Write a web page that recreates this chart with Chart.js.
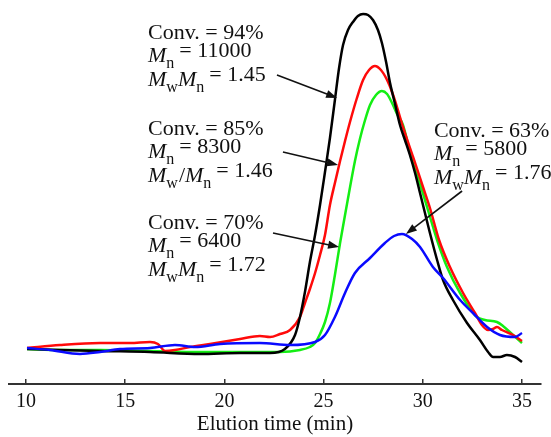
<!DOCTYPE html>
<html>
<head>
<meta charset="utf-8">
<script src="https://cdn.jsdelivr.net/npm/chart.js@4"></script>
<style>
  html, body { margin: 0; padding: 0; background: #fff; }
  canvas { display: block; }
</style>
</head>
<body>
<canvas id="gpcChart" width="551" height="437"></canvas>
<script>
// GPC traces, detector signal (arb. units) against elution time (min)
const blackTime = [10.05, 11.71, 13.73, 16.25, 18.77, 20.79, 22.30, 23.05, 23.56, 23.81, 24.06, 24.31, 24.57, 24.82, 25.07, 25.32, 25.57, 25.78, 25.98, 26.23, 26.48, 26.73, 26.99, 27.24, 27.49, 27.74, 27.94, 28.15, 28.35, 28.60, 28.85, 29.10, 29.35, 29.61, 29.86, 30.11, 30.36, 30.72, 31.02, 31.52, 32.23, 32.88, 33.29, 33.54, 33.89, 34.24, 34.65, 35.00];
const blackSignal = [35, 34, 33, 32, 30, 31, 31, 35, 49, 67, 92, 122, 149, 179, 212, 246, 284, 316, 339, 354, 362, 368, 370, 369, 364, 354, 341, 322, 301, 280, 259, 244, 229, 211, 191, 171, 151, 124, 104, 84, 61, 44, 32, 27, 27, 29, 27, 22];

const redTime = [10.05, 11.71, 13.73, 15.24, 16.25, 16.65, 17.01, 17.51, 18.27, 19.27, 20.79, 21.79, 22.30, 22.80, 23.31, 23.81, 24.06, 24.31, 24.57, 24.82, 25.07, 25.32, 25.57, 25.83, 26.08, 26.33, 26.68, 26.99, 27.29, 27.59, 27.89, 28.20, 28.45, 28.70, 29.00, 29.51, 30.01, 30.36, 30.82, 31.37, 32.03, 32.63, 32.98, 33.29, 33.54, 33.74, 33.99, 34.55, 35.00];
const redSignal = [36, 39, 41, 41, 42, 40, 33, 34, 37, 40, 45, 48, 47, 50, 54, 67, 81, 95, 111, 129, 149, 179, 201, 223, 243, 262, 286, 304, 314, 318, 314, 304, 292, 277, 257, 227, 197, 176, 144, 117, 91, 71, 59, 54, 55, 57, 54, 49, 43];

const greenTime = [10.05, 11.71, 13.73, 16.25, 18.77, 22.80, 23.81, 24.31, 24.57, 24.82, 25.07, 25.32, 25.57, 25.83, 26.18, 26.58, 26.83, 27.09, 27.34, 27.64, 27.94, 28.20, 28.45, 28.70, 29.00, 29.41, 29.91, 30.26, 30.72, 31.22, 31.88, 32.73, 33.13, 33.74, 34.04, 34.55, 35.00];
const greenSignal = [35, 34, 34, 33, 32, 32, 34, 37, 41, 50, 62, 81, 109, 141, 180, 223, 245, 264, 279, 289, 293, 290, 281, 270, 259, 227, 197, 174, 144, 117, 91, 67, 64, 62, 58, 49, 41];

const blueTime = [10.05, 11.21, 12.72, 13.73, 14.74, 16.25, 17.51, 18.52, 19.78, 21.79, 23.31, 24.57, 25.07, 25.57, 26.08, 26.58, 27.34, 28.09, 28.55, 28.95, 29.46, 29.86, 30.51, 31.02, 31.88, 32.53, 33.24, 33.89, 34.65, 35.00];
const blueSignal = [36, 34, 30, 32, 35, 36, 39, 37, 40, 41, 39, 42, 49, 67, 91, 111, 126, 141, 148, 150, 145, 137, 117, 106, 84, 71, 57, 49, 47, 51];

const tickValues = [10, 15, 20, 25, 30, 35];

// conversion / Mn / dispersity for each trace
const noteConv = ['94', '85', '70', '63'];
const noteMn = ['11000', '8300', '6400', '5800'];
const notePdi = ['1.45', '1.46', '1.72', '1.76'];
const noteSlash = [false, true, false, false];
// where each note sits (time, signal) and where its arrow runs
const noteAt = [[16.15, 345], [16.15, 249], [16.15, 155], [30.56, 247]];
const arrowFrom = [[22.65, 309], [22.95, 232], [22.45, 151], [31.98, 193]];
const arrowTo = [[25.68, 286], [25.73, 219], [25.78, 137], [29.15, 150]];

const serif = '"Liberation Serif", "Times New Roman", serif';

function toPoints(xs, ys) {
  return xs.map((x, i) => ({ x, y: ys[i] }));
}

// draw a run of text pieces: [text, kind, baseline shift, gap before]
function drawRun(ctx, pieces, x, y) {
  let cx = x;
  pieces.forEach(([text, kind, dy, gap]) => {
    if (kind === 'i') ctx.font = `italic 22px ${serif}`;
    else if (kind === 's') ctx.font = `16px ${serif}`;
    else ctx.font = `22px ${serif}`;
    cx += gap || 0;
    ctx.fillText(text, cx, y + dy);
    cx += ctx.measureText(text).width;
  });
}

function drawArrow(ctx, x1, y1, x2, y2) {
  const ang = Math.atan2(y2 - y1, x2 - x1);
  const len = 11, half = 4;
  ctx.beginPath();
  ctx.moveTo(x1, y1);
  ctx.lineTo(x2 - Math.cos(ang) * len * 0.8, y2 - Math.sin(ang) * len * 0.8);
  ctx.stroke();
  ctx.beginPath();
  ctx.moveTo(x2, y2);
  ctx.lineTo(x2 - Math.cos(ang) * len - Math.sin(ang) * half, y2 - Math.sin(ang) * len + Math.cos(ang) * half);
  ctx.lineTo(x2 - Math.cos(ang) * len + Math.sin(ang) * half, y2 - Math.sin(ang) * len - Math.cos(ang) * half);
  ctx.closePath();
  ctx.fill();
}

const notesPlugin = {
  id: 'gpcNotes',
  afterDatasetsDraw(chart) {
    const { ctx, scales: { x, y } } = chart;
    ctx.save();
    ctx.fillStyle = '#111';
    ctx.strokeStyle = '#111';
    ctx.lineWidth = 1.6;
    ctx.textBaseline = 'alphabetic';
    ctx.textAlign = 'left';
    noteConv.forEach((conv, i) => {
      const px = x.getPixelForValue(noteAt[i][0]);
      const py = y.getPixelForValue(noteAt[i][1]);
      drawRun(ctx, [['Conv. = ' + conv + '%', 'r', 0, 0]], px, py);
      drawRun(ctx, [['M', 'i', 0, 0], ['n', 's', 6, 0], ['= ' + noteMn[i], 'r', -5, 5]], px, py + 23);
      const third = noteSlash[i]
        ? [['M', 'i', 0, 0], ['w', 's', 6, 0], ['/', 'r', 0, 1], ['M', 'i', 0, 0], ['n', 's', 6, 0], ['= ' + notePdi[i], 'r', -5, 5]]
        : [['M', 'i', 0, 0], ['w', 's', 6, 0], ['M', 'i', 0, 0], ['n', 's', 6, 0], ['= ' + notePdi[i], 'r', -5, 5]];
      drawRun(ctx, third, px, py + 47);
      drawArrow(ctx,
        x.getPixelForValue(arrowFrom[i][0]), y.getPixelForValue(arrowFrom[i][1]),
        x.getPixelForValue(arrowTo[i][0]), y.getPixelForValue(arrowTo[i][1]));
    });
    ctx.restore();
  }
};

const lineStyle = {
  borderWidth: 2.5,
  pointRadius: 0,
  fill: false,
  tension: 0.4,
  cubicInterpolationMode: 'monotone'
};

new Chart(document.getElementById('gpcChart'), {
  type: 'line',
  data: {
    datasets: [
      { label: 'Conv. 63%', data: toPoints(blueTime, blueSignal), borderColor: '#0a0aff', ...lineStyle },
      { label: 'Conv. 94%', data: toPoints(blackTime, blackSignal), borderColor: '#000000', ...lineStyle },
      { label: 'Conv. 85%', data: toPoints(redTime, redSignal), borderColor: '#ff0a0a', ...lineStyle },
      { label: 'Conv. 70%', data: toPoints(greenTime, greenSignal), borderColor: '#14ee14', ...lineStyle }
    ]
  },
  options: {
    responsive: false,
    animation: false,
    devicePixelRatio: 1,
    layout: { padding: { left: 9, right: 10, top: 4, bottom: 0 } },
    plugins: {
      legend: { display: false },
      tooltip: { enabled: false }
    },
    scales: {
      x: {
        type: 'linear',
        min: 9.143,
        max: 35.958,
        afterBuildTicks: axis => { axis.ticks = tickValues.map(v => ({ value: v })); },
        afterFit: axis => { axis.height = 53; },
        border: { display: true, color: '#333', width: 2 },
        grid: { drawOnChartArea: false, drawTicks: true, tickLength: -5, color: '#333', lineWidth: 1.5 },
        ticks: { color: '#111', padding: 11, font: { family: serif, size: 20 } },
        title: {
          display: true,
          text: 'Elution time (min)',
          color: '#111',
          font: { family: serif, size: 21 },
          padding: { top: 0, bottom: 0 }
        }
      },
      y: { display: false, min: 0, max: 380 }
    }
  },
  plugins: [notesPlugin]
});
</script>
</body>
</html>
